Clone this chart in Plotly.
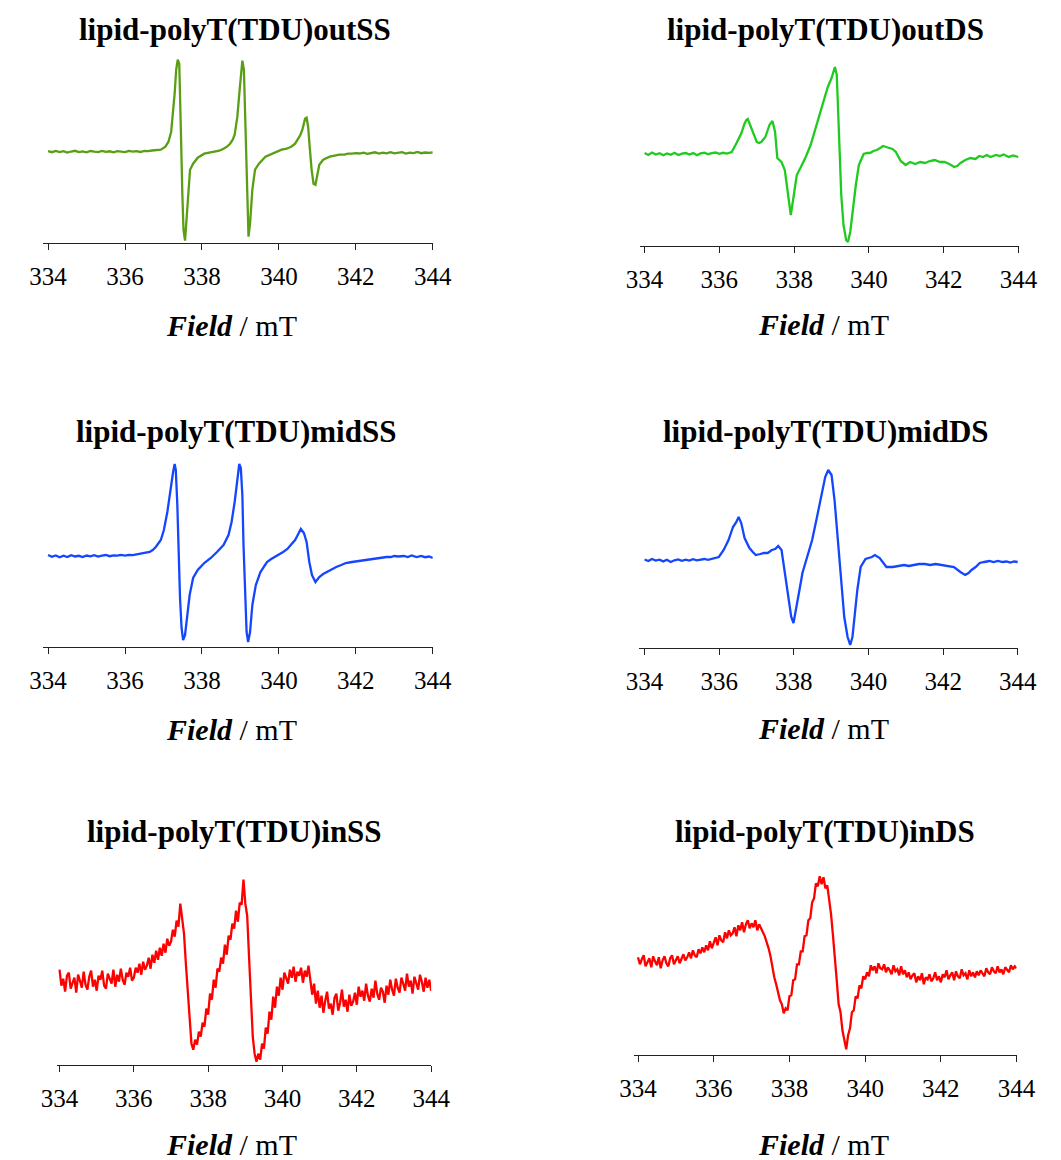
import plotly.graph_objects as go

# ---------------- data (field in mT, intensity in arbitrary units) ----------------
TICKS = [334, 336, 338, 340, 342, 344]

TITLES = ["lipid-polyT(TDU)outSS", "lipid-polyT(TDU)outDS",
          "lipid-polyT(TDU)midSS", "lipid-polyT(TDU)midDS",
          "lipid-polyT(TDU)inSS", "lipid-polyT(TDU)inDS"]

OUT_SS = [
    (334.0, 0.5), (334.1, -0.5), (334.2, 0.8), (334.3, -0.3), (334.4, 0.6), (334.5, -0.8),
    (334.6, 0.2), (334.7, 0.9), (334.8, -0.4), (334.9, 0.3), (335.0, -0.6), (335.1, 0.7),
    (335.2, 0.0), (335.3, -0.5), (335.4, 0.8), (335.5, -0.2), (335.6, 0.4), (335.7, -0.7),
    (335.8, 0.6), (335.9, 0.1), (336.0, -0.4), (336.1, 0.8), (336.2, 0.0), (336.3, 0.5),
    (336.4, -0.3), (336.5, 0.9), (336.6, 0.6), (336.7, 1.2), (336.8, 1.5), (336.93, 2),
    (337.05, 5), (337.13, 10), (337.2, 20), (337.24, 35), (337.29, 58), (337.33, 82),
    (337.37, 92), (337.41, 88), (337.43, 65), (337.46, 8), (337.49, -42), (337.52, -78),
    (337.56, -89), (337.59, -72), (337.64, -38), (337.69, -18), (337.77, -12), (337.89, -6),
    (338.06, -2), (338.2, -1), (338.31, 0), (338.45, 1), (338.56, 3), (338.65, 5),
    (338.73, 8), (338.8, 12), (338.85, 17), (338.92, 35), (338.98, 62), (339.02, 82),
    (339.05, 91), (339.09, 82), (339.11, 52), (339.15, 2), (339.18, -48), (339.21, -85),
    (339.25, -72), (339.31, -38), (339.38, -18), (339.48, -12), (339.65, -5), (339.82, -2),
    (339.95, 0), (340.07, 2), (340.2, 3), (340.32, 5), (340.42, 8), (340.49, 12),
    (340.55, 16), (340.61, 22), (340.68, 33), (340.72, 34), (340.76, 25), (340.8, 5),
    (340.85, -18), (340.9, -32), (340.95, -33), (340.99, -25), (341.05, -13), (341.15, -8),
    (341.32, -5), (341.45, -4), (341.57, -3), (341.7, -3), (341.8, -2), (341.9, -2),
    (342.0, -1.5), (342.1, -1.8), (342.2, -0.9), (342.3, -2.1), (342.4, -1.2), (342.5, -0.6),
    (342.6, -1.9), (342.7, -1.0), (342.8, -1.6), (342.9, -0.4), (343.0, -1.7), (343.1, -1.1),
    (343.2, -0.5), (343.3, -1.8), (343.4, -0.9), (343.5, -1.4), (343.6, -0.3), (343.7, -1.5),
    (343.8, -0.8), (343.9, -1.2), (344.0, -0.7),
]

OUT_DS = [
    (334.0, 1), (334.1, -1), (334.2, 1.5), (334.3, -0.5), (334.4, 0.8), (334.5, -1.2),
    (334.6, 0.5), (334.7, -0.8), (334.8, 1.2), (334.9, -1), (335.0, 0.3), (335.1, 1),
    (335.2, -0.6), (335.3, 0.9), (335.4, -1.3), (335.5, 0.6), (335.6, 1.4), (335.7, -0.2),
    (335.8, 0.8), (335.9, 1.5), (336.0, 0.2), (336.1, 1.2), (336.2, 0.4), (336.3, 2),
    (336.33, 2), (336.46, 11), (336.59, 21), (336.67, 30), (336.72, 34), (336.76, 35),
    (336.8, 31), (336.89, 21), (337.0, 12), (337.06, 11), (337.12, 12), (337.23, 17),
    (337.34, 29), (337.42, 33), (337.49, 22), (337.55, -4), (337.6, -6), (337.66, -8),
    (337.75, -16), (337.81, -34), (337.86, -51), (337.91, -61), (337.98, -44), (338.07, -21),
    (338.18, -13), (338.31, -3), (338.44, 9), (338.57, 26), (338.7, 42), (338.78, 54),
    (338.9, 67), (339.0, 76), (339.04, 82), (339.09, 87), (339.14, 79), (339.17, 39),
    (339.22, -1), (339.26, -41), (339.32, -71), (339.39, -86), (339.44, -88), (339.5, -78),
    (339.57, -54), (339.65, -31), (339.73, -11), (339.86, 0), (339.95, 1), (340.03, 1),
    (340.12, 3), (340.21, 4), (340.3, 6), (340.38, 8), (340.46, 7), (340.55, 6),
    (340.63, 5), (340.72, 2), (340.8, -3), (340.85, -7), (340.98, -11), (341.1, -8),
    (341.24, -10), (341.37, -8), (341.5, -9), (341.63, -7), (341.76, -6), (341.9, -8),
    (342.02, -8), (342.15, -10), (342.28, -13), (342.36, -12), (342.45, -9), (342.58, -6),
    (342.71, -4), (342.85, -5), (342.95, -2), (343.05, -3), (343.15, -1), (343.25, -3),
    (343.4, -1), (343.5, -2), (343.6, -0.5), (343.74, -3), (343.85, -1.5), (344.0, -3),
]

MID_SS = [
    (334.0, 1), (334.1, -0.8), (334.2, 0.6), (334.3, -1.2), (334.4, 0.3), (334.5, -1),
    (334.6, 0.8), (334.7, -0.5), (334.8, 0.2), (334.9, -1.1), (335.0, 0.5), (335.1, -0.3),
    (335.2, 0.9), (335.3, -0.6), (335.4, 0.4), (335.5, 1), (335.6, -0.2), (335.7, 0.7),
    (335.8, 0.3), (335.9, 1.1), (336.0, 0.4), (336.1, 1.2), (336.2, 0.8), (336.3, 1.5),
    (336.38, 2), (336.5, 3), (336.64, 4), (336.72, 6), (336.8, 9), (336.93, 16),
    (337.01, 26), (337.1, 44), (337.18, 68), (337.25, 84), (337.29, 92), (337.32, 86),
    (337.36, 51), (337.39, 1), (337.43, -42), (337.47, -72), (337.51, -84), (337.56, -79),
    (337.62, -56), (337.68, -39), (337.77, -22), (337.89, -14), (338.06, -7), (338.23, -2),
    (338.39, 4), (338.56, 11), (338.69, 21), (338.77, 34), (338.85, 54), (338.92, 78),
    (338.97, 92), (339.01, 88), (339.05, 61), (339.08, 11), (339.12, -39), (339.16, -76),
    (339.2, -86), (339.25, -76), (339.31, -49), (339.4, -29), (339.52, -16), (339.69, -6),
    (339.8, -3), (339.9, -1), (340.0, 1), (340.11, 4), (340.22, 7), (340.32, 11),
    (340.42, 16), (340.49, 21), (340.57, 27), (340.65, 23), (340.72, 14), (340.79, -6),
    (340.86, -19), (340.95, -26), (341.05, -21), (341.15, -18), (341.24, -16), (341.37, -13),
    (341.49, -11), (341.62, -9), (341.74, -7), (341.9, -6), (342.08, -5), (342.25, -4),
    (342.41, -3), (342.55, -2), (342.7, -1.5), (342.8, -1), (342.91, -1), (343.0, 0),
    (343.1, -0.5), (343.25, 0), (343.35, -1), (343.45, 0.5), (343.58, -1), (343.7, 0),
    (343.8, -1.2), (343.9, -0.5), (344.0, -2),
]

MID_DS = [
    (334.0, 0.5), (334.1, -1), (334.2, 1), (334.3, -0.5), (334.4, 0.3), (334.5, -1.4),
    (334.6, 0.2), (334.7, -2), (334.8, -0.3), (334.9, 0.6), (335.0, -0.8), (335.1, 0.4),
    (335.2, -0.5), (335.3, 0.8), (335.4, -0.3), (335.5, 0.5), (335.6, 1), (335.7, 0.2),
    (335.8, 1.2), (335.9, 2), (335.99, 3), (336.12, 10), (336.25, 20), (336.37, 33),
    (336.46, 38), (336.52, 43), (336.59, 37), (336.68, 22), (336.81, 12), (336.9, 8),
    (336.98, 5), (337.1, 6), (337.2, 7), (337.3, 7), (337.41, 10), (337.5, 11),
    (337.58, 14), (337.67, 10), (337.76, -13), (337.84, -37), (337.93, -57), (337.99, -63),
    (338.06, -50), (338.15, -30), (338.23, -13), (338.36, 3), (338.49, 20), (338.62, 43),
    (338.75, 67), (338.84, 83), (338.92, 90), (339.01, 85), (339.09, 60), (339.18, 20),
    (339.27, -27), (339.35, -57), (339.44, -77), (339.51, -85), (339.57, -77), (339.64, -53),
    (339.7, -30), (339.79, -7), (339.92, 1), (340.09, 3), (340.17, 5), (340.3, 2),
    (340.48, -7), (340.65, -7), (340.8, -6), (340.95, -5), (341.08, -6), (341.2, -5),
    (341.35, -4), (341.51, -4), (341.65, -5), (341.8, -4), (341.94, -5), (342.1, -6),
    (342.29, -7), (342.46, -12), (342.59, -15), (342.68, -13), (342.76, -10), (342.87, -7),
    (342.98, -3), (343.1, -2), (343.24, -1), (343.35, -2), (343.47, -1), (343.59, -2),
    (343.7, -1.5), (343.8, -2.5), (343.9, -1.5), (344.0, -2),
]

# noisy spectra, sampled every 0.05 mT (one row = 1 mT)
FIELD_IN = [
    334.00, 334.05, 334.10, 334.15, 334.20, 334.25, 334.30, 334.35, 334.40, 334.45,
    334.50, 334.55, 334.60, 334.65, 334.70, 334.75, 334.80, 334.85, 334.90, 334.95,
    335.00, 335.05, 335.10, 335.15, 335.20, 335.25, 335.30, 335.35, 335.40, 335.45,
    335.50, 335.55, 335.60, 335.65, 335.70, 335.75, 335.80, 335.85, 335.90, 335.95,
    336.00, 336.05, 336.10, 336.15, 336.20, 336.25, 336.30, 336.35, 336.40, 336.45,
    336.50, 336.55, 336.60, 336.65, 336.70, 336.75, 336.80, 336.85, 336.90, 336.95,
    337.00, 337.05, 337.10, 337.15, 337.20, 337.25, 337.30, 337.35, 337.40, 337.45,
    337.50, 337.55, 337.60, 337.65, 337.70, 337.75, 337.80, 337.85, 337.90, 337.95,
    338.00, 338.05, 338.10, 338.15, 338.20, 338.25, 338.30, 338.35, 338.40, 338.45,
    338.50, 338.55, 338.60, 338.65, 338.70, 338.75, 338.80, 338.85, 338.90, 338.95,
    339.00, 339.05, 339.10, 339.15, 339.20, 339.25, 339.30, 339.35, 339.40, 339.45,
    339.50, 339.55, 339.60, 339.65, 339.70, 339.75, 339.80, 339.85, 339.90, 339.95,
    340.00, 340.05, 340.10, 340.15, 340.20, 340.25, 340.30, 340.35, 340.40, 340.45,
    340.50, 340.55, 340.60, 340.65, 340.70, 340.75, 340.80, 340.85, 340.90, 340.95,
    341.00, 341.05, 341.10, 341.15, 341.20, 341.25, 341.30, 341.35, 341.40, 341.45,
    341.50, 341.55, 341.60, 341.65, 341.70, 341.75, 341.80, 341.85, 341.90, 341.95,
    342.00, 342.05, 342.10, 342.15, 342.20, 342.25, 342.30, 342.35, 342.40, 342.45,
    342.50, 342.55, 342.60, 342.65, 342.70, 342.75, 342.80, 342.85, 342.90, 342.95,
    343.00, 343.05, 343.10, 343.15, 343.20, 343.25, 343.30, 343.35, 343.40, 343.45,
    343.50, 343.55, 343.60, 343.65, 343.70, 343.75, 343.80, 343.85, 343.90, 343.95,
    344.00,
]

IN_SS = [
    12, -4, 3, -10, 6, 9, -7, -2, 4, -11, 7, 1, -6, 10, -3, -8, 5, 11, -5, 2,        # 334
    -9, 6, 2, 11, -4, -7, 8, 3, -2, 12, -5, 7, 0, 13, 2, -3, 9, 5, 14, 1,            # 335
    4, 14, 9, 18, 7, 20, 12, 16, 24, 13, 27, 19, 31, 22, 34, 26, 38, 29, 43, 36,     # 336
    40, 52, 45, 61, 55, 78, 60, 48, 18, -12, -42, -62, -68, -58, -63, -50, -55, -41, -45, -27,  # 337
    -33, -12, -18, 2, -6, 13, 10, 24, 18, 37, 27, 46, 42, 58, 53, 71, 60, 79, 77, 102,  # 338
    78, 66, 25, -20, -55, -72, -80, -72, -78, -62, -67, -46, -52, -30, -38, -15, -26, -5, -14, 4,  # 339
    -8, 9, 3, -2, 12, 4, 15, 0, 10, 6, 14, -1, 11, 5, 16, 2, -13, -2, -22, -9,       # 340
    -26, -14, -31, -19, -10, -27, -22, -33, -16, -12, -29, -21, -8, -25, -18, -30, -13, -24, -20, -11,  # 341
    -23, -5, -15, -9, -19, -2, -14, -20, -7, -16, 1, -12, -18, -6, -10, -21, -4, -13, 2, -8,  # 342
    -14, 3, -6, -11, 4, -2, -9, 8, -5, 1, -12, 5, -3, -8, 7, 0, -10, 4, -6, 2,       # 343
    -9,                                                                              # 344
]

IN_DS = [
    3, -4, 1, 5, -6, -2, 2, -7, 4, -1, -5, 3, -8, 0, 4, -3, -6, 2, 5, -4,            # 334
    1, 4, -3, 2, 6, 0, 3, 8, 2, 10, 5, 3, 11, 7, 13, 8, 15, 10, 19, 12,              # 335
    17, 23, 15, 25, 20, 18, 28, 22, 30, 25, 27, 33, 24, 35, 30, 38, 28, 36, 40, 32,  # 336
    37, 33, 40, 30, 36, 31, 28, 24, 19, 12, 4, -8, -17, -24, -31, -40, -44, -53, -48, -50,  # 337
    -36, -35, -20, -19, -4, -4, 9, 9, 24, 25, 40, 42, 58, 62, 77, 74, 84, 76, 83, 72,  # 338
    75, 60, 46, 25, 5, -20, -44, -52, -70, -80, -89, -75, -68, -52, -50, -36, -38, -25, -28, -16,  # 339
    -19, -12, -16, -5, -10, -6, -13, -3, -8, -9, -4, -12, -7, -10, -14, -5, -11, -9, -15, -6,  # 340
    -14, -10, -17, -12, -19, -15, -13, -22, -16, -20, -13, -24, -17, -19, -14, -21, -18, -12, -20, -16,  # 341
    -22, -14, -17, -10, -19, -15, -12, -20, -11, -16, -18, -9, -15, -13, -19, -10, -16, -12, -17, -11,  # 342
    -15, -10, -13, -16, -8, -12, -14, -7, -11, -13, -6, -12, -9, -14, -7, -10, -12, -5, -9, -6,  # 343
    -8,                                                                              # 344
]

COLORS = ["#5A9E14", "#1ECB1E", "#1446FF", "#1446FF", "#FF0000", "#FF0000"]

# ---------------- layout geometry (pixels) ----------------
W, H = 1061, 1160
# (x_left, x_right, y_top, y_axis, range_x0, yrange_lo, yrange_hi)
PANELS = [
    (28, 431, 50, 243, 333.87, -91.3, 101.7),
    (645, 1036.7, 55, 245.7, 333.87, -91.7, 99.0),
    (28, 431, 455, 646.7, 333.87, -90.7, 101.0),
    (644, 1036, 460, 648.3, 333.845, -88.3, 100.0),
    (42.7, 429.3, 870, 1065, 333.94, -83.3, 111.7),
    (639.3, 1034.7, 862, 1055.3, 333.90, -95.0, 98.3),
]
TITLE_POS = [(226, 30), (837, 30), (227, 431), (838, 431), (226, 831), (837, 831)]
XLAB_POS = [(223, 325), (835, 324), (223, 729), (835, 728), (223, 1144), (835, 1144)]

SERIES = []
for pts in (OUT_SS, OUT_DS, MID_SS, MID_DS):
    SERIES.append(([p[0] for p in pts], [p[1] for p in pts]))
n = min(len(FIELD_IN), len(IN_SS))
SERIES.append((FIELD_IN[:n], IN_SS[:n]))
n = min(len(FIELD_IN), len(IN_DS))
SERIES.append((FIELD_IN[:n], IN_DS[:n]))

FONT = "Liberation Serif, Times New Roman, serif"
fig = go.Figure()
layout = dict(width=W, height=H, margin=dict(l=0, r=0, t=0, b=0),
              paper_bgcolor="white", plot_bgcolor="white", showlegend=False)
annotations = []
for i, (geo, (xs, ys)) in enumerate(zip(PANELS, SERIES)):
    xl, xr, yt, ya, rx0, ylo, yhi = geo
    k = "" if i == 0 else str(i + 1)
    fig.add_trace(go.Scatter(x=xs, y=ys, mode="lines",
                             line=dict(color=COLORS[i], width=2.3),
                             xaxis="x" + k, yaxis="y" + k, hoverinfo="skip"))
    layout["xaxis" + k] = dict(
        domain=[xl / W, xr / W], range=[rx0, 344.0], anchor="y" + k,
        tickvals=TICKS, ticktext=[str(t) for t in TICKS],
        showline=True, linecolor="#222222", linewidth=1.3,
        ticks="outside", ticklen=6, tickwidth=1.3, tickcolor="#222222",
        showgrid=False, zeroline=False, ticklabelstandoff=5,
        tickfont=dict(family=FONT, size=25, color="black"),
    )
    layout["yaxis" + k] = dict(
        domain=[1 - ya / H, 1 - yt / H], range=[ylo, yhi], anchor="x" + k,
        visible=False, showgrid=False, zeroline=False,
    )
    tx, ty = TITLE_POS[i]
    annotations.append(dict(x=tx / W, y=1 - ty / H, xref="paper", yref="paper",
                            text="<b>" + TITLES[i] + "</b>", showarrow=False,
                            xanchor="center", yanchor="middle",
                            font=dict(family=FONT, size=31, color="black")))
    lx, ly = XLAB_POS[i]
    annotations.append(dict(x=lx / W, y=1 - ly / H, xref="paper", yref="paper",
                            text="<b><i>Field</i></b> / mT", showarrow=False,
                            xanchor="center", yanchor="middle",
                            font=dict(family=FONT, size=30, color="black")))
layout["annotations"] = annotations
fig.update_layout(**layout)
fig.write_html("out.html")
